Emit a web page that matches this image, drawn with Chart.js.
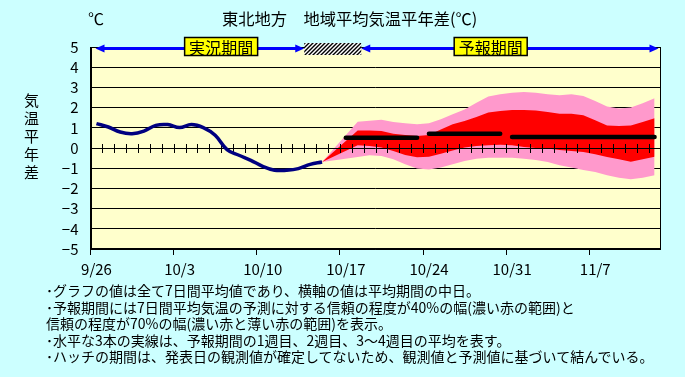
<!DOCTYPE html>
<html>
<head>
<meta charset="utf-8">
<script src="https://cdn.jsdelivr.net/npm/chart.js@4"></script>
<style>
  body { margin: 0; background: #ccffff; }
  #wrap { position: relative; width: 685px; height: 377px; font-family: "Noto Sans CJK JP", sans-serif; color: #000; }
  #c { position: absolute; left: 0; top: 0; }
  .t { position: absolute; white-space: nowrap; line-height: 1; }
</style>
</head>
<body>
<div id="wrap">
  <canvas id="c" width="685" height="377"></canvas>
  <div class="t" style="left:222px;top:10px;font-size:16.3px">東北地方　地域平均気温平年差(℃)</div>
  <div class="t" style="left:88px;top:10px;font-size:16px">℃</div>
  <div class="t" style="left:24px;top:91px;font-size:15px;line-height:18px">気<br>温<br>平<br>年<br>差</div>
  <div class="t" style="left:46px;top:282px;font-size:14px;line-height:16.5px">
    ･グラフの値は全て7日間平均値であり、横軸の値は平均期間の中日。<br>
    ･予報期間には7日間平均気温の予測に対する信頼の程度が40%の幅(濃い赤の範囲)と<br>
    信頼の程度が70%の幅(濃い赤と薄い赤の範囲)を表示。<br>
    ･水平な3本の実線は、予報期間の1週目、2週目、3～4週目の平均を表す。<br>
    ･ハッチの期間は、発表日の観測値が確定してないため、観測値と予測値に基づいて結んでいる。
  </div>
</div>
<script>
"use strict";

// day index 0 = 9/26, one category per day, 48 days shown
const NDAYS = 48;
const tickLabels = ["9/26", "10/3", "10/10", "10/17", "10/24", "10/31", "11/7"];

// observed 7-day mean anomaly, days 0..19
const obsVals = [1.21, 1.04, 0.79, 0.71, 0.84, 1.12, 1.16, 1.01, 1.16, 1.01,
  0.63, -0.08, -0.36, -0.61, -0.91, -1.10, -1.10, -1.02, -0.81, -0.69];

// forecast ranges
const fcDays = [19, 22, 23, 24, 25, 26, 27, 28, 29, 30, 31, 32, 33, 34, 35, 36, 37, 38, 39, 40, 41, 42, 43, 44, 45, 46, 47];
const up70 = [-0.69, 1.30, 1.35, 1.40, 1.29, 1.22, 1.17, 1.22, 1.42, 1.67, 1.91, 2.24, 2.55, 2.66,
  2.74, 2.77, 2.74, 2.66, 2.61, 2.66, 2.57, 2.33, 2.05, 1.95, 2.00, 2.21, 2.46];
const up40 = [-0.69, 0.87, 0.87, 0.84, 0.71, 0.64, 0.59, 0.64, 0.92, 1.17, 1.34, 1.53, 1.76, 1.83,
  1.88, 1.88, 1.86, 1.78, 1.70, 1.70, 1.62, 1.37, 1.12, 1.09, 1.12, 1.29, 1.47];
const lo40 = [-0.69, 0.13, 0.10, 0.02, -0.15, -0.35, -0.46, -0.43, -0.28, -0.12, 0.02, 0.10, 0.13, 0.16,
  0.13, 0.05, 0.00, -0.03, -0.10, -0.15, -0.20, -0.31, -0.45, -0.56, -0.68, -0.56, -0.43];
const lo70 = [-0.69, -0.45, -0.36, -0.40, -0.56, -0.81, -1.02, -1.06, -0.97, -0.81, -0.64, -0.53, -0.48, -0.48,
  -0.48, -0.53, -0.59, -0.69, -0.86, -0.97, -1.09, -1.19, -1.35, -1.47, -1.55, -1.47, -1.35];

// weekly means (1st week, 2nd week, weeks 3-4)
const weekFrom = [21, 28, 35];
const weekTo = [27, 34, 47];
const weekMean = [0.51, 0.71, 0.54];

// period markers along the top
const hatchFrom = 17.5, hatchTo = 22.3;
const obsLabelAt = 10.5, fcLabelAt = 33.2;

const FONT = "Noto Sans CJK JP";
const OBS_INDEX = 4;

const pts = (xs, ys) => ys.map((y, i) => ({ x: xs[i], y }));

function hatchPattern(ctx) {
  const c = document.createElement("canvas");
  c.width = 4; c.height = 4;
  const p = c.getContext("2d");
  p.fillStyle = "#fff"; p.fillRect(0, 0, 4, 4);
  p.strokeStyle = "#000"; p.lineWidth = 1.4;
  p.beginPath();
  p.moveTo(0, 4); p.lineTo(4, 0);
  p.moveTo(-1, 1); p.lineTo(1, -1);
  p.moveTo(3, 5); p.lineTo(5, 3);
  p.stroke();
  return ctx.createPattern(c, "repeat");
}

function head(ctx, x, y, dir) {
  ctx.beginPath();
  ctx.moveTo(x, y);
  ctx.lineTo(x - dir * 9, y - 4);
  ctx.lineTo(x - dir * 9, y + 4);
  ctx.closePath();
  ctx.fill();
}

function labelBox(ctx, cx, cy, text) {
  const w = 73, h = 18;
  ctx.fillStyle = "#ffff00";
  ctx.fillRect(cx - w / 2, cy - h / 2, w, h);
  ctx.strokeStyle = "#000"; ctx.lineWidth = 1.5;
  ctx.strokeRect(cx - w / 2, cy - h / 2, w, h);
  ctx.fillStyle = "#000";
  ctx.font = `16px "${FONT}"`;
  ctx.textAlign = "center"; ctx.textBaseline = "middle";
  ctx.fillText(text, cx, cy + 1);
}

const decor = {
  id: "decor",
  beforeDraw(chart) {
    const { ctx, chartArea: a } = chart;
    ctx.save();
    ctx.fillStyle = "#ffffcc";
    ctx.fillRect(a.left, a.top, a.right - a.left, a.bottom - a.top);
    ctx.restore();
  },
  beforeDatasetsDraw(chart) {
    const { ctx, chartArea: a } = chart;
    ctx.save();
    ctx.strokeStyle = "#000"; ctx.lineWidth = 1;
    ctx.strokeRect(Math.round(a.left) + 0.5, Math.round(a.top) + 0.5,
      Math.round(a.right - a.left) - 1, Math.round(a.bottom - a.top) - 1);
    ctx.restore();
  },
  beforeDatasetDraw(chart, args) {
    if (args.index !== OBS_INDEX) return;
    // x axis crossing at 0 with a tick at each day boundary
    const { ctx, chartArea: a, scales: { x, y } } = chart;
    const y0 = Math.round(y.getPixelForValue(0)) + 0.5;
    ctx.save();
    ctx.strokeStyle = "#000"; ctx.lineWidth = 1;
    ctx.beginPath();
    ctx.moveTo(a.left, y0); ctx.lineTo(a.right, y0);
    for (let k = 1; k < NDAYS; k++) {
      const px = Math.round(x.getPixelForValue(k - 0.5)) + 0.5;
      ctx.moveTo(px, y0 - 4.5); ctx.lineTo(px, y0 + 4.5);
    }
    ctx.stroke();
    ctx.restore();
  },
  afterDraw(chart) {
    const { ctx, chartArea: a, scales: { x } } = chart;
    const yA = a.top + 1.5;
    const xL = x.getPixelForValue(-0.5) + 5;
    const xR = x.getPixelForValue(NDAYS - 0.5) - 2;
    const h1 = x.getPixelForValue(hatchFrom);
    const h2 = x.getPixelForValue(hatchTo);
    ctx.save();
    ctx.fillStyle = hatchPattern(ctx);
    ctx.fillRect(h1, a.top - 4, h2 - h1, 12);
    ctx.strokeStyle = "#0000ff"; ctx.fillStyle = "#0000ff"; ctx.lineWidth = 3;
    ctx.beginPath();
    ctx.moveTo(xL + 6, yA); ctx.lineTo(h1 - 6, yA);
    ctx.moveTo(h2 + 6, yA); ctx.lineTo(xR - 6, yA);
    ctx.stroke();
    head(ctx, xL, yA, -1);
    head(ctx, h1, yA, 1);
    head(ctx, h2, yA, -1);
    head(ctx, xR, yA, 1);
    labelBox(ctx, x.getPixelForValue(obsLabelAt), a.top - 0.5, "実況期間");
    labelBox(ctx, x.getPixelForValue(fcLabelAt), a.top - 0.5, "予報期間");
    ctx.restore();
  },
};

const weekSets = weekMean.map((m, i) => ({
  data: [{ x: weekFrom[i], y: m }, { x: weekTo[i], y: m }],
  borderColor: "#000", borderWidth: 4.5, borderCapStyle: "round",
  pointRadius: 0, fill: false, order: 1,
}));

new Chart(document.getElementById("c"), {
  type: "line",
  data: {
    datasets: [
      { data: pts(fcDays, lo70), borderColor: "transparent", borderWidth: 0, pointRadius: 0, fill: false, order: 8 },
      { data: pts(fcDays, up70), borderColor: "transparent", borderWidth: 0, pointRadius: 0,
        fill: 0, backgroundColor: "#ff99cc", order: 7 },
      { data: pts(fcDays, lo40), borderColor: "transparent", borderWidth: 0, pointRadius: 0, fill: false, order: 6 },
      { data: pts(fcDays, up40), borderColor: "transparent", borderWidth: 0, pointRadius: 0,
        fill: 2, backgroundColor: "#ff0000", order: 5 },
      { data: obsVals.map((v, i) => ({ x: i, y: v })), borderColor: "#000080", borderWidth: 3.5,
        tension: 0.4, pointRadius: 0, fill: false, order: 3 },
      ...weekSets,
    ],
  },
  options: {
    responsive: false,
    devicePixelRatio: 1,
    animation: false,
    layout: { padding: { left: 0, top: 47, right: 24.5, bottom: 88 } },
    plugins: { legend: { display: false }, tooltip: { enabled: false }, title: { display: false } },
    scales: {
      x: {
        type: "linear", min: -0.5, max: NDAYS - 0.5,
        afterBuildTicks: (s) => { s.ticks = tickLabels.map((_, i) => ({ value: i * 7 - 0.5 })); },
        afterFit: (s) => { s.height = 40; },
        grid: { drawOnChartArea: false, drawTicks: true, tickLength: 6, color: "#000" },
        border: { display: true, color: "#000" },
        ticks: {
          autoSkip: false, maxRotation: 0, labelOffset: 6, padding: 5,
          color: "#000", font: { family: FONT, size: 15 },
          callback: (v, i) => tickLabels[i],
        },
      },
      y: {
        min: -5, max: 5,
        afterFit: (s) => { s.width = 90.5; },
        grid: { color: "#000", drawTicks: false },
        border: { display: true, color: "#000" },
        ticks: {
          stepSize: 1, autoSkip: false, padding: 12, color: "#000", font: { family: FONT, size: 15 },
          callback: (v) => (v < 0 ? "\u2212" + -v : String(v)),
        },
      },
    },
  },
  plugins: [decor],
});
</script>
</body>
</html>
